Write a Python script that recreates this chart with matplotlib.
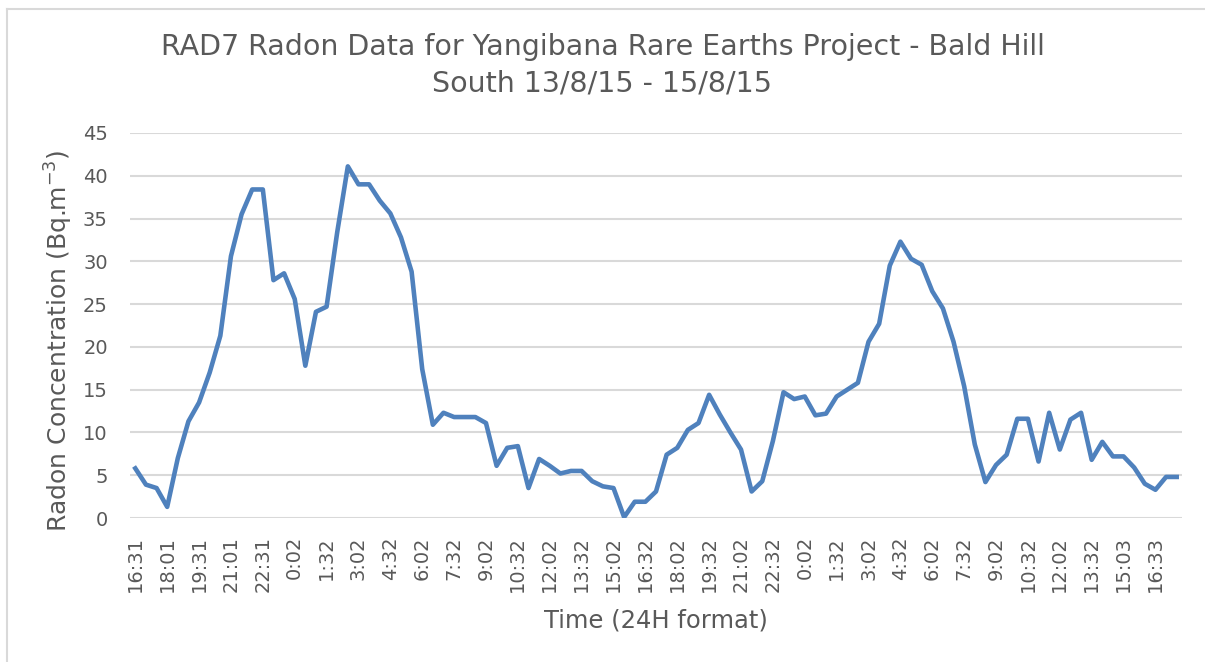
import matplotlib
matplotlib.use("Agg")
import matplotlib.pyplot as plt
from matplotlib.lines import Line2D

# Radon readings, one every 30 min (Bq/m3)
radon = [
    5.8, 3.9, 3.5, 1.3, 7.0, 11.3, 13.5, 17.0, 21.3, 30.6,
    35.5, 38.4, 38.4, 27.8, 28.6, 25.6, 17.8, 24.1, 24.7, 33.4,
    41.1, 39.0, 39.0, 37.1, 35.6, 32.8, 28.8, 17.4, 10.9, 12.3,
    11.8, 11.8, 11.8, 11.1, 6.1, 8.2, 8.4, 3.5, 6.9, 6.1,
    5.2, 5.5, 5.5, 4.3, 3.7, 3.5, 0.1, 1.9, 1.9, 3.1,
    7.4, 8.2, 10.3, 11.1, 14.4, 12.1, 10.0, 8.0, 3.1, 4.3,
    9.0, 14.7, 13.9, 14.2, 12.0, 12.2, 14.2, 15.0, 15.8, 20.6,
    22.7, 29.5, 32.3, 30.3, 29.6, 26.5, 24.5, 20.6, 15.4, 8.6,
    4.2, 6.2, 7.4, 11.6, 11.6, 6.6, 12.3, 8.0, 11.5, 12.3,
    6.8, 8.9, 7.2, 7.2, 5.9, 4.0, 3.3, 4.8, 4.8,
]

# every third reading gets a label
time_labels = [
    "16:31", "18:01", "19:31", "21:01", "22:31", "0:02", "1:32", "3:02",
    "4:32", "6:02", "7:32", "9:02", "10:32", "12:02", "13:32", "15:02",
    "16:32", "18:02", "19:32", "21:02", "22:32", "0:02", "1:32", "3:02",
    "4:32", "6:02", "7:32", "9:02", "10:32", "12:02", "13:32", "15:03",
    "16:33",
]
label_step = 3

TEXT = "#595959"
GRID = "#d9d9d9"
LINE = "#4f81bd"

plt.rcParams["font.family"] = ["DejaVu Sans"]
plt.rcParams["mathtext.default"] = "regular"

fig = plt.figure(figsize=(12.05, 6.62), dpi=100)
ax = fig.add_axes([130 / 1205, 1 - 518 / 662, (1182 - 130) / 1205, (518 - 133) / 662])

x = list(range(len(radon)))
ax.plot(x, radon, color=LINE, linewidth=3.3, solid_joinstyle="round")

ax.set_xlim(-0.5, len(radon) - 0.5)
ax.set_ylim(0, 45)
ax.set_yticks(range(0, 46, 5))
ax.set_xticks(x[::label_step])
ax.set_xticklabels(time_labels, rotation=90)

ax.grid(axis="y", color=GRID, linewidth=1.5)
ax.set_axisbelow(True)
for s in ax.spines.values():
    s.set_visible(False)
ax.tick_params(length=0, labelsize=14, labelcolor=TEXT)
ax.tick_params(axis="y", pad=16)
ax.tick_params(axis="x", pad=13)

ax.set_xlabel("Time (24H format)", fontsize=17.5, color=TEXT, labelpad=12)
ax.set_ylabel("Radon Concentration (Bq.m$^{-3}$)", fontsize=18, color=TEXT)
ax.yaxis.set_label_coords(-55 / 1052, 0.46)

fig.suptitle("RAD7 Radon Data for Yangibana Rare Earths Project - Bald Hill\nSouth 13/8/15 - 15/8/15",
             x=0.5, y=1 - 33 / 662, va="top", fontsize=20.5, color=TEXT, linespacing=1.4)

# chart border, only left and top edges fall inside the image
bx, by = 7 / 1205, 1 - 9 / 662
fig.add_artist(Line2D([bx, bx], [0, by], transform=fig.transFigure, color=GRID, linewidth=1.5))
fig.add_artist(Line2D([bx, 1], [by, by], transform=fig.transFigure, color=GRID, linewidth=1.5))

fig.savefig("out.png", dpi=100)
